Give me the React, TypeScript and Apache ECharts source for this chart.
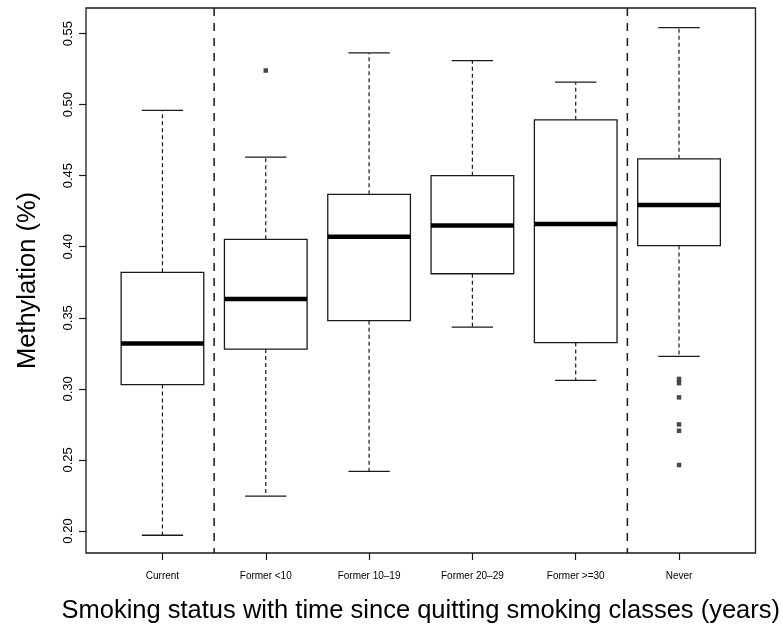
import React, { useEffect, useRef } from 'react';
import * as echarts from 'echarts';

const categories = ['Current', 'Former <10', 'Former 10–19', 'Former 20–29', 'Former >=30', 'Never'];
const positions = [1, 2, 3, 4, 5, 6];
const whiskerLow = [0.197, 0.2245, 0.242, 0.3435, 0.306, 0.3228];
const q1 = [0.303, 0.328, 0.348, 0.381, 0.3326, 0.4008];
const median = [0.332, 0.3633, 0.4071, 0.415, 0.416, 0.4293];
const q3 = [0.382, 0.4052, 0.4369, 0.45, 0.4893, 0.4619];
const whiskerHigh = [0.496, 0.463, 0.5364, 0.531, 0.5158, 0.5542];
const outlierGroup = [2, 6, 6, 6, 6, 6, 6];
const outlierValue = [0.524, 0.307, 0.304, 0.294, 0.275, 0.2705, 0.2464];
const yTicks = [0.2, 0.25, 0.3, 0.35, 0.4, 0.45, 0.5, 0.55];
const separators = [1.5, 5.5];

const FONT = '"Liberation Sans", Arial, Helvetica, sans-serif';
const INK = '#1a1a1a';

export default function App() {
  const ref = useRef<HTMLDivElement>(null);
  useEffect(() => {
    const chart = echarts.init(ref.current!, null, { renderer: 'svg' });
    const boxData = positions.map((p, i) => [p, whiskerLow[i], q1[i], median[i], q3[i], whiskerHigh[i]]);
    const outliers = outlierGroup.map((g, i) => [g, outlierValue[i]]);
    chart.setOption({
      animation: false,
      grid: {
        left: 86,
        right: 27,
        top: 8,
        bottom: 78,
        show: true,
        borderColor: INK,
        borderWidth: 1.3,
        backgroundColor: 'transparent',
      },
      xAxis: {
        type: 'value',
        min: 0.26,
        max: 6.74,
        name: 'Smoking status with time since quitting smoking classes (years)',
        nameLocation: 'middle',
        nameGap: 43,
        nameTextStyle: { fontSize: 25.5, color: '#000', fontFamily: FONT },
        axisLine: { show: false },
        splitLine: { show: false },
        axisTick: { show: true, length: 7, customValues: positions, lineStyle: { color: INK, width: 1.2 } },
        axisLabel: {
          customValues: positions,
          formatter: (v: number) => categories[Math.round(v) - 1] || '',
          fontSize: 10,
          color: '#000',
          fontFamily: FONT,
          margin: 17,
        },
      },
      yAxis: {
        type: 'value',
        min: 0.1845,
        max: 0.568,
        name: 'Methylation (%)',
        nameLocation: 'middle',
        nameGap: 47,
        nameTextStyle: { fontSize: 25.5, color: '#000', fontFamily: FONT },
        axisLine: { show: false },
        splitLine: { show: false },
        axisTick: { show: true, length: 7, customValues: yTicks, lineStyle: { color: INK, width: 1.2 } },
        axisLabel: {
          customValues: yTicks,
          formatter: (v: number) => v.toFixed(2),
          rotate: 90,
          fontSize: 13,
          color: '#000',
          fontFamily: FONT,
          margin: 12,
        },
      },
      series: [
        {
          type: 'custom',
          data: boxData,
          encode: { x: 0, y: [1, 2, 3, 4, 5] },
          renderItem: (params: any, api: any) => {
            const x = api.value(0);
            const lo = api.coord([x, api.value(1)]);
            const b1 = api.coord([x, api.value(2)]);
            const md = api.coord([x, api.value(3)]);
            const b3 = api.coord([x, api.value(4)]);
            const hi = api.coord([x, api.value(5)]);
            const half = api.size([0.8, 0])[0] / 2;
            const cap = half / 2;
            const cx = lo[0];
            const dashed = { stroke: INK, lineWidth: 1.2, lineDash: [4, 3] };
            const solid = { stroke: INK, lineWidth: 1.3 };
            return {
              type: 'group',
              children: [
                { type: 'line', shape: { x1: cx, y1: b3[1], x2: cx, y2: hi[1] }, style: dashed },
                { type: 'line', shape: { x1: cx, y1: b1[1], x2: cx, y2: lo[1] }, style: dashed },
                { type: 'line', shape: { x1: cx - cap, y1: hi[1], x2: cx + cap, y2: hi[1] }, style: solid },
                { type: 'line', shape: { x1: cx - cap, y1: lo[1], x2: cx + cap, y2: lo[1] }, style: solid },
                {
                  type: 'rect',
                  shape: { x: cx - half, y: b3[1], width: half * 2, height: b1[1] - b3[1] },
                  style: { fill: '#fff', stroke: INK, lineWidth: 1.3 },
                },
                {
                  type: 'line',
                  shape: { x1: cx - half, y1: md[1], x2: cx + half, y2: md[1] },
                  style: { stroke: '#000', lineWidth: 4.5 },
                },
              ],
            };
          },
          z: 2,
        },
        {
          type: 'custom',
          data: separators.map((s) => [s]),
          encode: { x: 0 },
          renderItem: (params: any, api: any) => {
            const cs = params.coordSys;
            const px = api.coord([api.value(0), 0.3])[0];
            return {
              type: 'line',
              shape: { x1: px, y1: cs.y, x2: px, y2: cs.y + cs.height },
              style: { stroke: INK, lineWidth: 1.5, lineDash: [8, 7] },
            };
          },
          z: 1,
        },
        {
          type: 'scatter',
          data: outliers,
          symbol: 'rect',
          symbolSize: 4.5,
          itemStyle: { color: INK },
          z: 3,
        },
      ],
    });
    return () => chart.dispose();
  }, []);
  return <div ref={ref} style={{ position: 'fixed', left: 0, top: 0, width: 783, height: 631 }} />;
}
